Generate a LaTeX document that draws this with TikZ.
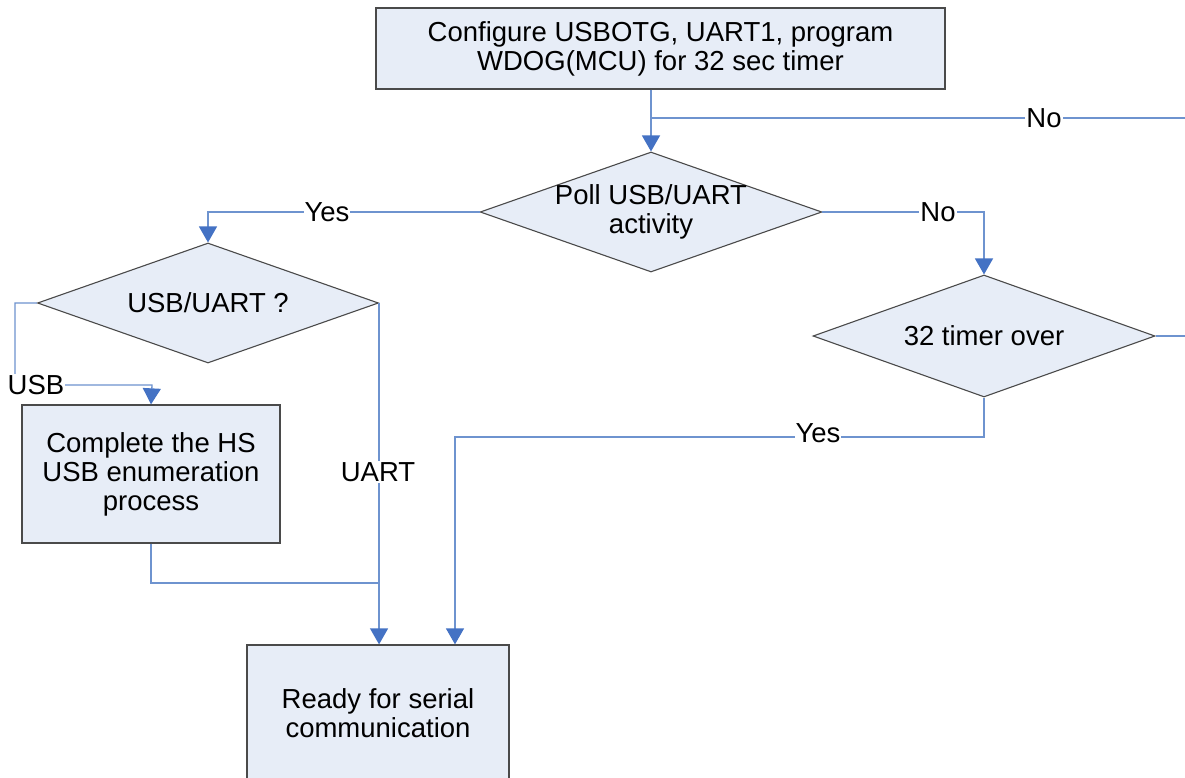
\documentclass[tikz,border=0pt]{standalone}
\usepackage{fontspec}
\setmainfont{Liberation Sans}
\usetikzlibrary{shapes.geometric,arrows.meta}
\definecolor{boxfill}{HTML}{E7EDF7}
\definecolor{boxline}{HTML}{4A4A4A}
\definecolor{conn}{HTML}{6E93CF}
\definecolor{tipc}{HTML}{4472C4}
\tikzset{
  every node/.style={font=\fontsize{27.5}{29}\selectfont, text=black},
  procbox/.style={draw=boxline, fill=boxfill, line width=1.3pt, inner sep=0pt, align=center},
  decbox/.style={diamond, aspect=2.85, draw=boxline, fill=boxfill, line width=1.1pt, inner sep=0pt, align=center},
  conline/.style={draw=conn, line width=1.3pt},
  arr/.style={conline, -{Triangle[width=18pt,length=16pt,fill=tipc,color=tipc]}},
  lbl/.style={fill=white, inner sep=1pt}
}
\begin{document}
\begin{tikzpicture}[x=1pt,y=-1pt]
\useasboundingbox (0,0) rectangle (1185,778);
\clip (0,0) rectangle (1185,778);
\fill[white] (0,0) rectangle (1185,778);

\node[procbox, minimum width=569pt, minimum height=81pt] (cfg) at (660.5,48.5)
  {Configure USBOTG, UART1, program\\WDOG(MCU) for 32 sec timer};
\node[decbox, inner xsep=-3pt, minimum width=340pt, minimum height=120pt] (poll) at (651,212)
  {Poll USB/UART\\activity};
\node[decbox, minimum width=341pt, minimum height=120pt] (which) at (208,303)
  {USB/UART ?};
\node[decbox, minimum width=342pt, minimum height=122pt] (tmr) at (984,336)
  {32 timer over};
\node[procbox, minimum width=258pt, minimum height=138pt] (hs) at (151,474)
  {Complete the HS\\USB enumeration\\process};
\node[procbox, minimum width=262pt, minimum height=136pt] (ready) at (378,713)
  {Ready for serial\\communication};

\coordinate (rtop) at (1192,118);
\coordinate (rmid) at (1192,336);
\coordinate (yl) at (208,212);
\coordinate (nr) at (984,212);
\coordinate (ul) at (15,303);
\coordinate (ub) at (15,385);
\coordinate (uc) at (152,385);
\coordinate (hb) at (151,583);
\coordinate (jn) at (378,583);
\coordinate (ty) at (984,437);
\coordinate (tl) at (455,437);

% config -> poll
\draw[arr] (cfg.south -| poll.north) -- (poll.north);
% timer over: No loop back
\draw[conline] (tmr.east) -- (rmid) -- (rtop) -- (rtop -| poll.north);
\node[lbl] (lno1) at (1044,118) {No};
% poll Yes
\draw[arr] (poll.west) -- (yl) -- (which.north);
\node[lbl] (lyes1) at (327,212) {Yes};
% poll No
\draw[arr] (poll.east) -- (nr) -- (tmr.north);
\node[lbl] (lno2) at (938,212) {No};
% USB branch
\draw[arr] (which.west) -- (ul) -- (ub) -- (uc) -- (hs.north);
\node[lbl] (lusb) at (36,385) {USB};
% UART branch
\draw[arr] (which.east) -- (which.east |- ready.north);
\node[lbl] (luart) at (378,472) {UART};
% HS -> join
\draw[conline] (hs.south) -- (hb) -- (jn);
% timer Yes
\draw[arr] (tmr.south) -- (ty) -- (tl) -- (tl |- ready.north);
\node[lbl] (lyes2) at (818,433) {Yes};
\end{tikzpicture}
\end{document}
